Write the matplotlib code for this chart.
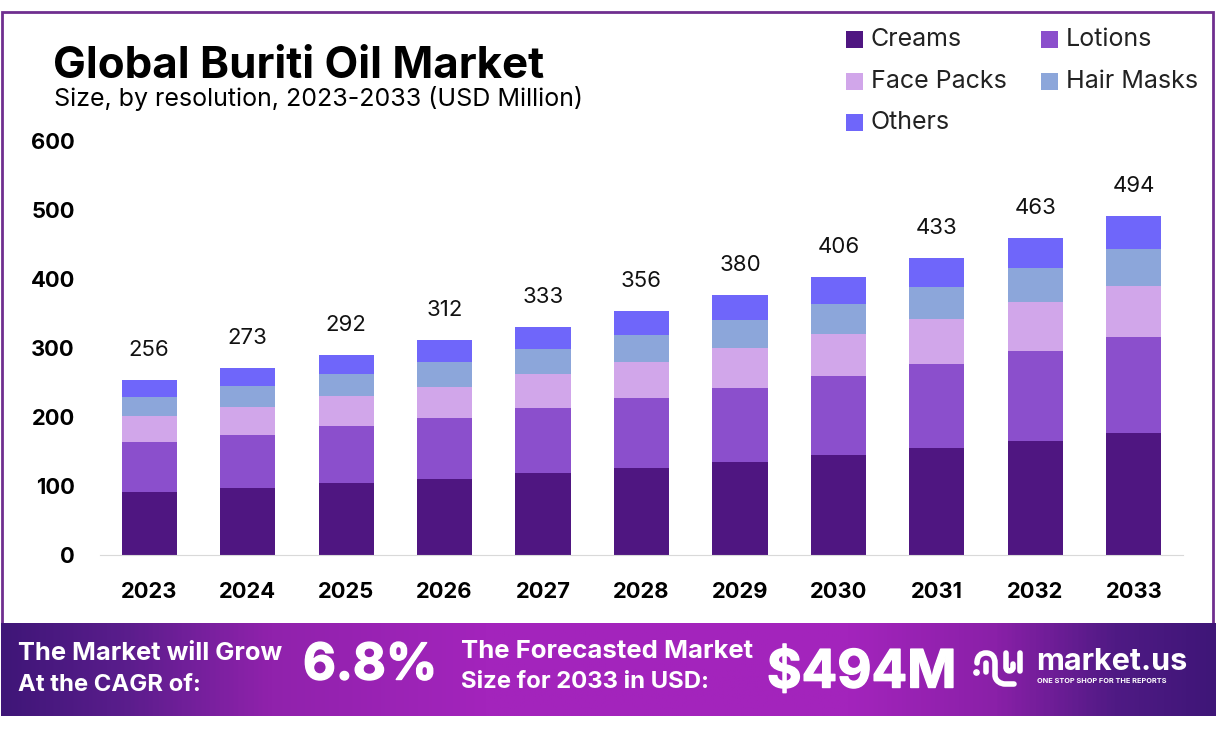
import numpy as np
import matplotlib
matplotlib.use("Agg")
import matplotlib.pyplot as plt
import matplotlib.patheffects as pe
from matplotlib.colors import LinearSegmentedColormap
from matplotlib.patches import Rectangle, PathPatch
from matplotlib.path import Path

years = ["2023","2024","2025","2026","2027","2028","2029","2030","2031","2032","2033"]
creams = [91,97,104,110,119,126,135,145,155,165,177]
lotions = [73,77,83,89,94,102,107,115,122,131,139]
face_packs = [38,41,44,45,50,52,58,61,65,70,74]
hair_masks = [27,30,32,36,36,39,41,43,47,50,54]
others = [25,26,27,31,32,35,36,39,42,44,48]
totals = [256,273,292,312,333,356,380,406,433,463,494]
series_names = ["Creams","Lotions","Face Packs","Hair Masks","Others"]
colors = ["#4F1681","#8B4FCC","#D1A6EA","#8CA6DA","#6F66FA"]
yticks = [0,100,200,300,400,500,600]

W, H = 1216, 737
FONT = "Inter"
fig = plt.figure(figsize=(W/100, H/100), dpi=100, facecolor="white")

# page overlay in pixel coordinates
bg = fig.add_axes([0, 0, 1, 1], zorder=0)
bg.axis("off")
bg.add_patch(Rectangle((1.5, 12), 1211, 612, fill=False, ec="#6F2F8F", lw=2))
cmap = LinearSegmentedColormap.from_list("b", [
    (0.0, "#3F1678"), (0.10, "#5A1D8C"), (0.22, "#9022AC"), (0.40, "#A324BC"),
    (0.70, "#A324BC"), (0.82, "#8A20A8"), (0.92, "#4F1A84"), (1.0, "#3F1678")])
grad = np.linspace(0, 1, 600).reshape(1, -1)
bg.imshow(grad, extent=(1, W, 716, 623), cmap=cmap, aspect="auto", zorder=2)
bg.set_xlim(0, W); bg.set_ylim(H, 0)

def T(x, y, s, size, weight="normal", color="black", ha="left", **kw):
    return bg.text(x, y, s, fontsize=size, fontweight=weight, color=color, ha=ha, va="center", family=FONT, zorder=5, **kw)

T(53, 66, "Global Buriti Oil Market", 31.6, "bold")
T(54, 98, "Size, by resolution, 2023-2033 (USD Million)", 18)
T(18, 654, "The Market will Grow", 18.4, "bold", "white")
T(18, 685, "At the CAGR of:", 17.2, "bold", "white")
T(303, 666, "6.8%", 36.5, "bold", "white").set_path_effects([pe.Stroke(linewidth=1, foreground="white"), pe.Normal()])
T(461, 652, "The Forecasted Market", 18.5, "bold", "white")
T(461, 682, "Size for 2033 in USD:", 17.2, "bold", "white")
T(767, 674, "$494M", 38, "bold", "white").set_path_effects([pe.Stroke(linewidth=1, foreground="white"), pe.Normal()])
T(1036, 662, "market.us", 22, "bold", "white")
T(1037, 681, "ONE STOP SHOP FOR THE REPORTS", 5.3, "bold", "white")

# logo
def stroke(verts, codes):
    bg.add_patch(PathPatch(Path(verts, codes), fill=False, ec="white", lw=4, capstyle="round", zorder=5))
C4, M, L = Path.CURVE4, Path.MOVETO, Path.LINETO
stroke([(977,663),(977,656),(981,653),(986,653),(992,653),(995,657),(995,663),(995,675),(995,681),(1001,684),(1005,684),(1014,684)],
       [M,C4,C4,C4,C4,C4,C4,L,C4,C4,C4,L])
stroke([(1006,653),(1006,667),(1006,672),(1012,672),(1013,668),(1013,664)], [M,L,C4,C4,C4,L])
stroke([(1020,653),(1020,671)], [M,L])
stroke([(986,663),(986,672)], [M,L])
bg.plot([976],[672], "o", color="white", ms=3.8, zorder=5)

# chart
x0, x1, y_top, y_bot = 100, 1183, 141, 555
ax = fig.add_axes([x0/W, 1-y_bot/H, (x1-x0)/W, (y_bot-y_top)/H], zorder=1)
ax.patch.set_alpha(0)
x = np.arange(len(years))
bottom = np.zeros(len(years))
for name, vals, c in zip(series_names, [creams,lotions,face_packs,hair_masks,others], colors):
    ax.bar(x, vals, width=0.56, bottom=bottom, color=c, label=name, lw=0)
    bottom += np.array(vals)
for xi, b, t_ in zip(x, bottom, totals):
    ax.annotate(str(t_), (xi, b), xytext=(0, 30*0.72), textcoords="offset points",
                ha="center", va="center", fontsize=16, family=FONT, color="#111111")
ax.set_xlim(-0.5, 10.5); ax.set_ylim(0, 600)
ax.set_xticks(x, years); ax.set_yticks(yticks)
for s in ["top","right","left"]:
    ax.spines[s].set_visible(False)
ax.spines["bottom"].set_color("#D9D9D9")
ax.tick_params(length=0)
ax.tick_params(axis="x", pad=19.5)
ax.tick_params(axis="y", pad=18)
for l in ax.get_xticklabels()+ax.get_yticklabels():
    l.set_fontsize(15.8); l.set_fontweight("bold"); l.set_family(FONT)
for l in ax.get_yticklabels():
    l.set_ha("right")

# legend, placed in pixel coordinates from the same series
legend_pos = [(846,39),(1041,39),(846,81),(1041,81),(846,122)]
for (lx, ly), name, c in zip(legend_pos, series_names, colors):
    bg.add_patch(Rectangle((lx, ly-8), 17, 17, color=c, lw=0, zorder=5))
    T(lx+25, ly, name, 18, color="#222222")

fig.savefig("out.png", dpi=100)
